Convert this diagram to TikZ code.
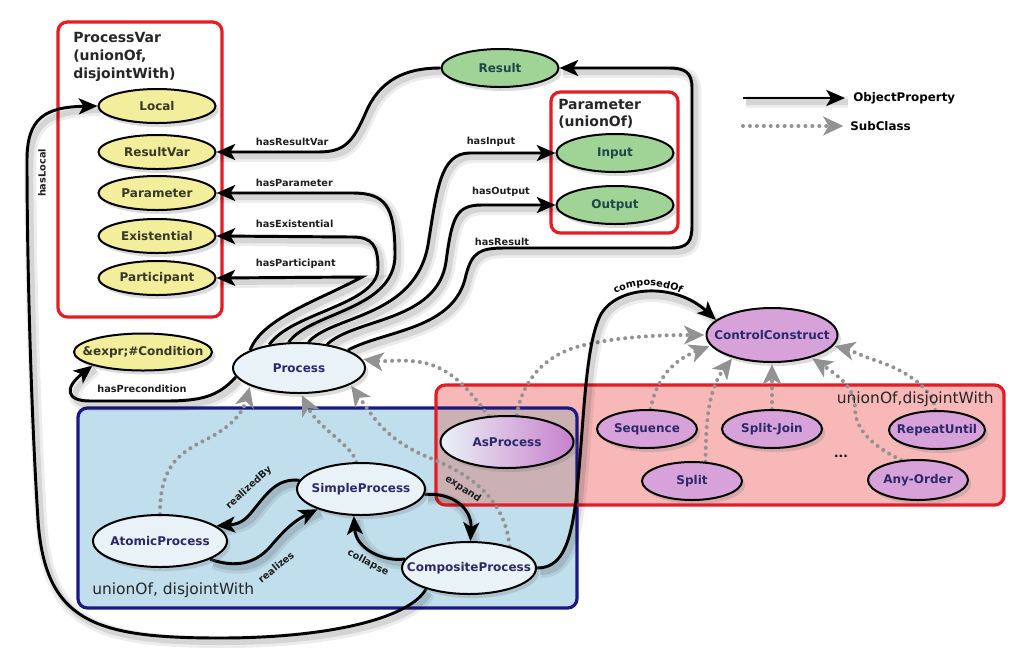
\documentclass[tikz,border=0pt]{standalone}
\usepackage{fontspec}
\setmainfont{DejaVu Sans}
\usetikzlibrary{arrows.meta,shadows,shapes.geometric,decorations.text}
\pgfdeclarelayer{boxes}
\pgfdeclarelayer{edges}
\pgfsetlayers{boxes,edges,main}
\definecolor{yelfill}{RGB}{242,238,155}
\definecolor{grnfill}{RGB}{160,212,150}
\definecolor{ligfill}{RGB}{233,242,246}
\definecolor{purfill}{RGB}{215,162,217}
\definecolor{asright}{RGB}{200,128,204}
\definecolor{bluefill}{RGB}{193,222,236}
\definecolor{bluedge}{RGB}{28,24,130}
\definecolor{pinkfill}{RGB}{248,184,184}
\definecolor{rededge}{RGB}{228,28,36}
\definecolor{overlapfill}{RGB}{203,176,180}
\definecolor{navytext}{RGB}{45,40,105}
\definecolor{greentext}{RGB}{30,70,75}
\definecolor{yeltext}{RGB}{55,55,40}
\definecolor{dotgray}{RGB}{146,146,146}
\definecolor{edgetext}{RGB}{30,30,30}
\newcommand\ctext[1]{\makebox[0pt]{#1}}
\newcommand\mynfont{\fontsize{9}{10}\selectfont\bfseries}
\newcommand\myefont{\fontsize{7.3}{8.5}\selectfont\bfseries}
\newcommand\mytfont{\fontsize{10.5}{13.6}\selectfont\bfseries}
\newcommand\myptfont{\fontsize{10.5}{13}\selectfont\bfseries}
\newcommand\mybfont{\fontsize{11.6}{13}\selectfont}
\newcommand\mylfont{\fontsize{8.9}{10}\selectfont\bfseries}
\tikzset{
  ov/.style={ellipse, draw=black, line width=1.5pt, inner sep=0pt, font=\mynfont,
    drop shadow={opacity=0.28, shadow xshift=2.5pt, shadow yshift=-3pt}},
  varnode/.style={ov, fill=yelfill, text=yeltext, minimum width=87.75pt, minimum height=25.5pt},
  condnode/.style={ov, fill=yelfill, text=yeltext, minimum width=103.5pt, minimum height=27.75pt},
  greennode/.style={ov, fill=grnfill, text=greentext, minimum width=87.75pt, minimum height=28.5pt},
  procnode/.style={ov, fill=ligfill, text=navytext, minimum width=#1, minimum height=39pt},
  purnode/.style={ov, fill=purfill, text=navytext, minimum width=75pt, minimum height=28.5pt},
  rel/.style={draw=black, line width=2.2pt, -{Stealth[length=14pt,width=12pt,inset=3.5pt]},
    preaction={draw=black, opacity=0.07, line width=9pt, -, transform canvas={shift={(2.5pt,-3pt)}}},
    preaction={draw=black, opacity=0.10, line width=4.5pt, -, transform canvas={shift={(2.5pt,-3pt)}}}},
  sub/.style={draw=dotgray, line width=3pt, line cap=round, dash pattern=on 0pt off 5.2pt,
    -{Stealth[length=15pt,width=14pt,inset=4pt]}, shorten >=1pt},
  elab/.style={font=\myefont, text=edgetext, inner sep=0.5pt},
  boxlab/.style={inner sep=0pt, text=black!85},
}
\begin{document}
\begin{tikzpicture}[x=0.75pt,y=-0.75pt]
\useasboundingbox (0,0) rectangle (1024,654);

% ---------- boxes ----------
\begin{pgfonlayer}{boxes}
  \draw[rededge, line width=2.4pt, rounded corners=7pt, fill=white] (58,22) rectangle (222,317);
  \draw[rededge, line width=2.4pt, rounded corners=7pt, fill=white] (551,92) rectangle (678,233);
  \fill[bluefill, rounded corners=7pt] (78,408) rectangle (577,608);
  \fill[pinkfill, rounded corners=7pt] (436,385) rectangle (1004,505);
  \begin{scope}
    \clip[rounded corners=7pt] (78,408) rectangle (577,608);
    \fill[overlapfill, rounded corners=7pt] (436,385) rectangle (1004,505);
  \end{scope}
  \draw[bluedge, line width=2.4pt, rounded corners=7pt] (78,408) rectangle (577,608);
  \draw[rededge, line width=2.4pt, rounded corners=7pt] (436,385) rectangle (1004,505);
\end{pgfonlayer}

% ---------- box titles ----------
\node[boxlab, font=\mytfont, anchor=north west, align=left] (pvtitle) at (73,32) {ProcessVar\\(unionOf,\\disjointWith)};
\node[boxlab, font=\myptfont, anchor=north west, align=left] (partitle) at (558,99) {Parameter\\(unionOf)};
\node[boxlab, font=\mybfont, anchor=west] (bluelab) at (92,590) {unionOf, disjointWith};
\node[boxlab, font=\mybfont, anchor=east] (pinklab) at (994,399) {unionOf,disjointWith};
\node[font=\mynfont, text=black] (dots) at (841,456) {...};

% ---------- nodes ----------
\node[varnode] (local) at (157,106) {\ctext{Local}};
\node[varnode] (resultvar) at (157,152) {\ctext{ResultVar}};
\node[varnode] (parameter) at (157,193) {\ctext{Parameter}};
\node[varnode] (existential) at (157,236) {\ctext{Existential}};
\node[varnode] (participant) at (157,278) {\ctext{Participant}};
\node[condnode] (cond) at (143,352) {\ctext{\&expr;\#Condition}};

\node[greennode] (result) at (500,68) {\ctext{Result}};
\node[greennode] (input) at (615,153) {\ctext{Input}};
\node[greennode] (output) at (615,205) {\ctext{Output}};

\node[procnode=99pt, minimum height=37.5pt] (process) at (299,368) {\ctext{Process}};
\node[procnode=96pt] (simple) at (361,489) {\ctext{SimpleProcess}};
\node[procnode=100.5pt] (atomic) at (160,541) {\ctext{AtomicProcess}};
\node[procnode=100.5pt] (composite) at (469,568) {\ctext{CompositeProcess}};
\node[procnode=99.75pt, left color=ligfill, right color=asright] (asproc) at (507,442) {\ctext{AsProcess}};

\node[purnode, minimum width=98.25pt, minimum height=40.5pt] (cc) at (772,335) {\ctext{ControlConstruct}};
\node[purnode] (seq) at (647,429) {\ctext{Sequence}};
\node[purnode] (sj) at (772,429) {\ctext{Split-Join}};
\node[purnode, minimum width=72pt] (ru) at (937,430) {\ctext{RepeatUntil}};
\node[purnode] (split) at (692,481) {\ctext{Split}};
\node[purnode, minimum height=30pt] (ao) at (918,480) {\ctext{Any-Order}};

% ---------- legend ----------
\node[font=\mylfont, anchor=west, inner sep=0pt] (lg1) at (853,98) {ObjectProperty};
\node[font=\mylfont, anchor=west, inner sep=0pt] (lg2) at (850,126) {SubClass};
\coordinate (la1) at (743,98);
\coordinate (la2) at (743,126);

% ---------- edge labels ----------
\node[elab, anchor=west] (lrv) at (255,142) {hasResultVar};
\node[elab, anchor=west] (lpa) at (255,183) {hasParameter};
\node[elab, anchor=west] (lex) at (255,224) {hasExistential};
\node[elab, anchor=west] (lpt) at (255,264) {hasParticipant};
\node[elab] (lin) at (491,142) {hasInput};
\node[elab] (lout) at (501,192) {hasOutput};
\node[elab] (lres) at (502,242) {hasResult};
\node[elab] (lpre) at (142,389) {hasPrecondition};
\node[elab, rotate=90] (lloc) at (42,173) {hasLocal};
\node[elab, rotate=42] (lrb) at (249,488) {realizedBy};
\node[elab, rotate=39] (lrz) at (276,567) {realizes};
\node[elab, rotate=-33] (lexp) at (463,489) {expand};
\node[elab, rotate=-28] (lcol) at (368,563) {collapse};
\path[decorate, decoration={text along path, text={|\myefont|composedOf}, text align=center}]
  (606,300) .. controls (630,281) and (666,281) .. (690,300);

% ---------- edges ----------
\begin{pgfonlayer}{edges}
  % subclass (dotted)
  \draw[sub] (la2) -- ([xshift=-4pt]lg2.west);
  \draw[sub] (atomic.north) .. controls (160,470) and (175,455) .. (205,440) .. controls (232,427) and (243,412) .. (process.200);
  \draw[sub] (simple.100) .. controls (352,445) and (318,428) .. (process.275);
  \draw[sub] (composite.28) .. controls (505,505) and (480,478) .. (430,458) .. controls (385,440) and (372,415) .. (process.-18);
  \draw[sub] (asproc.125) .. controls (472,395) and (455,368) .. (420,362) .. controls (400,359) and (385,362) .. (process.8);
  \draw[sub] (asproc.70) .. controls (520,392) and (535,358) .. (580,346) .. controls (620,336) and (665,335) .. (cc.west);
  \draw[sub] (seq.80) .. controls (655,385) and (668,362) .. (cc.190);
  \draw[sub] (split.55) .. controls (706,432) and (706,392) .. (cc.210);
  \draw[sub] (sj.north) -- (cc.south);
  \draw[sub] (ao.130) .. controls (870,445) and (855,428) .. (855,408) .. controls (855,390) and (842,378) .. (cc.-30);
  \draw[sub] (ru.95) .. controls (935,395) and (915,374) .. (880,362) .. controls (862,356) and (850,350) .. (cc.-10);

  % object properties (solid)
  \draw[rel] (la1) -- ([xshift=-6pt]lg1.west);
  \draw[rel] (result.west) .. controls (405,68) and (380,80) .. (366,112) .. controls (353,142) and (345,152) .. (318,152) -- (resultvar.east);
  \draw[rel] (process.160) .. controls (262,318) and (320,300) .. (362,277) -- (participant.east);
  \draw[rel] (process.142) .. controls (292,312) and (378,305) .. (378,268) .. controls (378,245) and (372,237) .. (352,237) -- (existential.east);
  \draw[rel] (process.112) .. controls (310,312) and (395,310) .. (395,255) .. controls (395,205) and (385,193) .. (352,193) -- (parameter.east);
  \draw[rel] (process.70) .. controls (332,315) and (415,318) .. (428,245) .. controls (437,190) and (440,153) .. (470,153) -- (input.west);
  \draw[rel] (process.40) .. controls (355,318) and (437,322) .. (446,262) .. controls (452,217) and (456,205) .. (482,205) -- (output.west);
  \draw[rel] (process.20) .. controls (385,330) and (455,330) .. (466,275) .. controls (472,252) and (480,248) .. (505,248) -- (670,248) .. controls (688,248) and (692,242) .. (692,225) -- (692,88) .. controls (692,72) and (685,68) .. (668,68) -- (result.east);
  \draw[rel] (process.188) .. controls (218,397) and (200,401) .. (165,401) -- (90,401) .. controls (66,401) and (64,388) .. (cond.195);
  \draw[rel] (composite.206) .. controls (410,618) and (330,638) .. (220,638) .. controls (95,638) and (45,622) .. (38,520) .. controls (31,410) and (27,260) .. (27,160) .. controls (27,118) and (45,107) .. (local.west);
  \draw[rel] (composite.east) .. controls (560,568) and (570,548) .. (576,500) .. controls (584,430) and (584,350) .. (600,316) .. controls (616,285) and (675,282) .. (cc.165);
  \draw[rel] (simple.172) .. controls (278,478) and (268,492) .. (255,508) .. controls (247,518) and (242,524) .. (atomic.15);
  \draw[rel] (atomic.-20) .. controls (235,568) and (255,564) .. (270,547) .. controls (282,533) and (292,522) .. (simple.205);
  \draw[rel] (simple.-5) .. controls (452,492) and (472,508) .. (composite.87);
  \draw[rel] (composite.172) .. controls (385,562) and (356,550) .. (simple.255);
\end{pgfonlayer}
\end{tikzpicture}
\end{document}
